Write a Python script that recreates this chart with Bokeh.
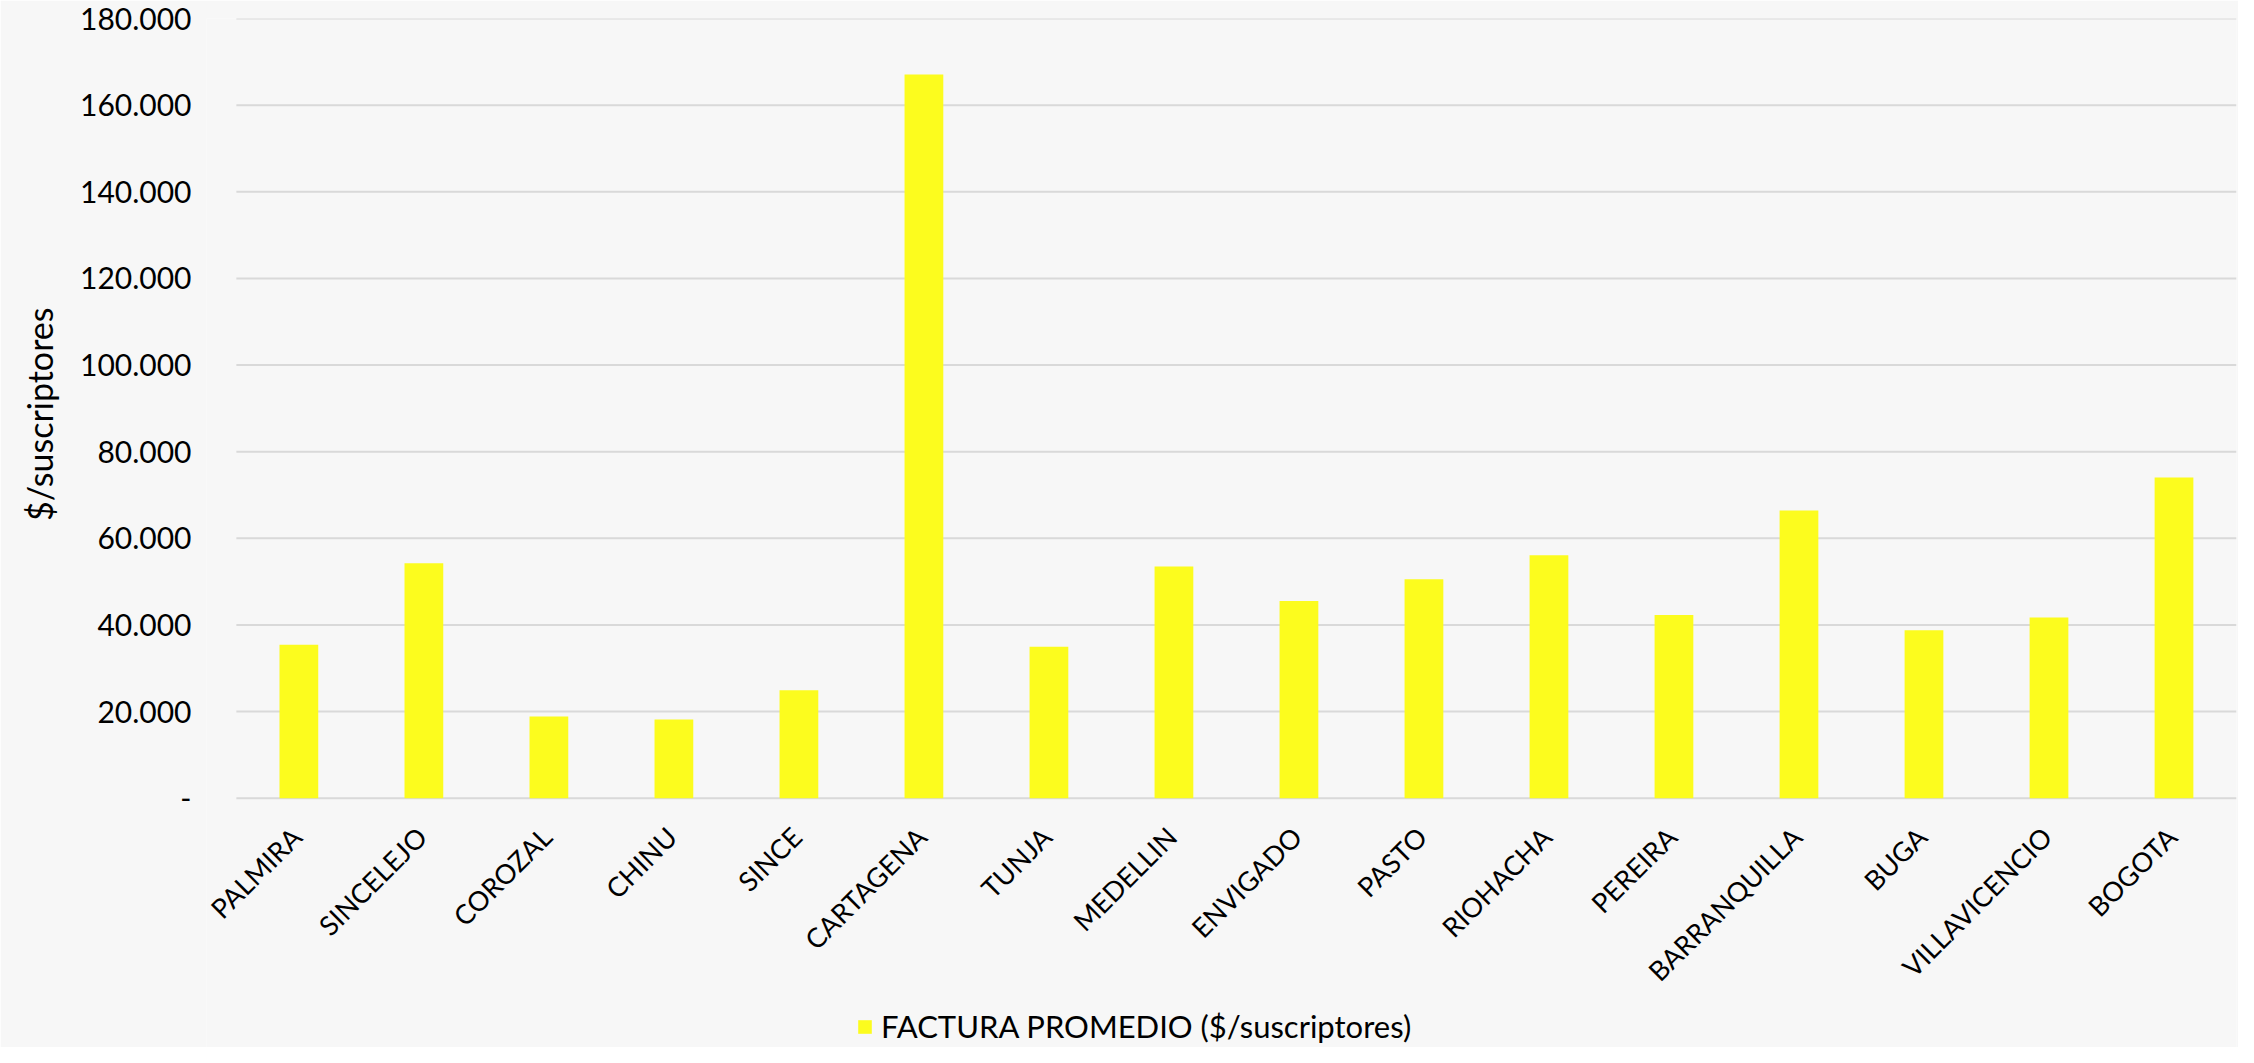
import math
from bokeh.plotting import figure
from bokeh.models import ColumnDataSource, Range1d, FixedTicker, Legend, LegendItem, Title
from bokeh.embed import file_html
from bokeh.resources import INLINE

cities = ["PALMIRA", "SINCELEJO", "COROZAL", "CHINU", "SINCE", "CARTAGENA", "TUNJA",
          "MEDELLIN", "ENVIGADO", "PASTO", "RIOHACHA", "PEREIRA", "BARRANQUILLA",
          "BUGA", "VILLAVICENCIO", "BOGOTA"]
factura = [35400, 54250, 18850, 18160, 24900, 167100, 34940,
           53490, 45520, 50570, 56090, 42300, 66440,
           38770, 41690, 74020]
y_ticks = [0, 20000, 40000, 60000, 80000, 100000, 120000, 140000, 160000, 180000]
y_tick_labels = ["-", "20.000", "40.000", "60.000", "80.000", "100.000",
                 "120.000", "140.000", "160.000", "180.000"]
series_name = "FACTURA PROMEDIO ($/suscriptores)"
y_title = "$/suscriptores"

FONT = "Lato"
BG = "#f7f7f7"
BAR = "#fcfc1e"
GRID = "#d9d9d9"

# ---- layout constants (pixels) ----
W, H = 2238, 1047
LEFT, RIGHT, TOP = 197, 2, 18
CAT_PX = 125.56            # width of one category slot
LABEL_ROOM = 30            # extra room left of the first slot for its rotated label
ZERO_PX = 779.7            # pixels from the top of the frame to value 0
Y_MAX = 180000
n = len(cities)
x_start = -0.5 - LABEL_ROOM / CAT_PX
x_end = n - 0.5
y_min = -(H - TOP - ZERO_PX) * Y_MAX / ZERO_PX

src = ColumnDataSource(data=dict(pos=list(range(n)), city=cities, v=factura,
                                 zero=[0] * n))
grid_src = ColumnDataSource(data=dict(y=y_ticks, x0=[-0.5] * len(y_ticks),
                                      x1=[x_end] * len(y_ticks)))

p = figure(x_range=Range1d(x_start, x_end), y_range=Range1d(y_min, Y_MAX),
           width=W, height=H, output_backend="svg", toolbar_location=None,
           background_fill_color=BG, border_fill_color=BG, outline_line_color=None,
           min_border_left=LEFT, min_border_right=RIGHT, min_border_top=TOP,
           min_border_bottom=0)

# horizontal gridlines at the value ticks, spanning only the category slots
p.segment(x0="x0", x1="x1", y0="y", y1="y", source=grid_src,
          line_color=GRID, line_width=2)

r = p.vbar(x="pos", top="v", width=0.31, source=src, fill_color=BAR, line_color=None)

# category labels, rotated 45 degrees, ending just under each bar
p.text(x="pos", y="zero", text="city", source=src, angle=math.pi / 4,
       text_align="right", text_baseline="top", x_offset=-14, y_offset=22,
       text_font={"value": FONT}, text_font_size="27px", text_color="#000000")

p.xaxis.visible = False
p.xgrid.grid_line_color = None
p.ygrid.grid_line_color = None
p.yaxis.ticker = FixedTicker(ticks=y_ticks)
p.yaxis.major_label_overrides = {t: l for t, l in zip(y_ticks, y_tick_labels)}
p.yaxis.axis_line_color = None
p.yaxis.major_tick_line_color = None
p.yaxis.minor_tick_line_color = None
p.yaxis.major_tick_out = 0
p.yaxis.major_tick_in = 0
p.yaxis.minor_tick_out = 0
p.yaxis.major_label_text_font = FONT
p.yaxis.major_label_text_font_size = "30px"
p.yaxis.major_label_text_color = "#000000"
p.yaxis.major_label_standoff = 15

ytitle = Title(text=y_title, align="right", offset=289, vertical_align="middle",
               text_font=FONT, text_font_size="34px", text_font_style="normal",
               text_color="#000000", standoff=34)
p.add_layout(ytitle, "left")

legend = Legend(items=[LegendItem(label=series_name, renderers=[r])],
                orientation="horizontal", location=(650, 2),
                background_fill_alpha=0, border_line_color=None,
                label_text_font=FONT, label_text_font_size="31px",
                label_text_color="#000000", label_standoff=8,
                glyph_width=17, glyph_height=17, margin=0, padding=0)
p.add_layout(legend)

open("out.html", "w").write(file_html(p, INLINE))
